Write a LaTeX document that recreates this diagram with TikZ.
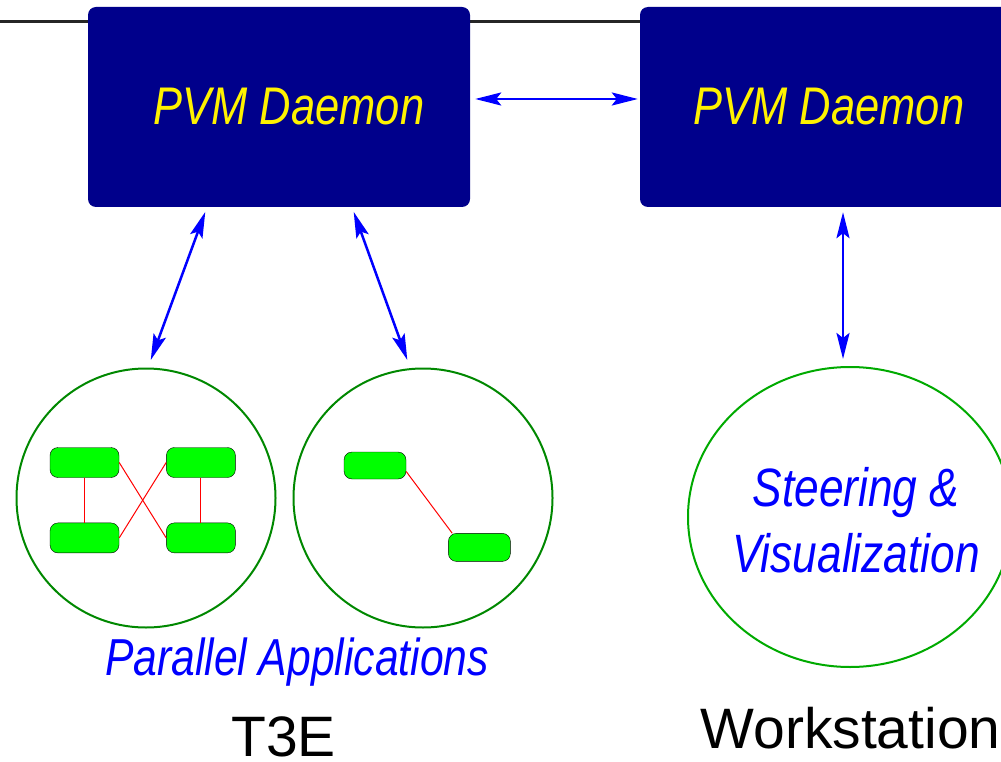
\documentclass[tikz,border=0pt]{standalone}
\usepackage{fontspec}
\setmainfont{Liberation Sans}
\newfontfamily\narrowsf[FakeStretch=0.82]{Liberation Sans}
\usetikzlibrary{positioning, shapes.geometric, arrows.meta}
\definecolor{navy}{RGB}{0,0,139}
\definecolor{appgreen}{RGB}{0,255,0}
\definecolor{ringgreen}{RGB}{0,136,0}
\definecolor{wsgreen}{RGB}{0,170,0}

\begin{document}
\begin{tikzpicture}[x=1pt, y=-1pt, >={Stealth[length=26pt, width=13pt, inset=5pt]},
        daemon/.style = {fill=navy, rounded corners=8pt, minimum width=382pt, minimum height=200pt},
        daemontext/.style = {text=yellow, font=\narrowsf\itshape\fontsize{53}{60}\selectfont},
        ring/.style = {draw=ringgreen, line width=2pt, circle, minimum size=259pt},
        task/.style = {draw, fill=appgreen, rounded corners=8pt, minimum width=69pt, minimum height=30pt},
        link/.style = {red, line width=1pt},
        msg/.style = {<->, blue, line width=2.5pt},
        caption/.style = {blue, font=\narrowsf\itshape\fontsize{52}{66}\selectfont}]
        \useasboundingbox (0,0) rectangle (1001,762);
        \clip (0,0) rectangle (1001,762);

        % backbone line
        \draw[line width=3pt, black!85] (0,22) -- (1001,22);

        \node[daemon] (d1) at (279,107) {};
        \node[daemon] (d2) at (831,107) {};
        \node[daemontext] (l1) at ([xshift=10pt]d1.center) {PVM Daemon};
        \node[daemontext] (l2) at ([xshift=-2pt]d2.center) {PVM Daemon};

        \node[ring] (c1) at (146,498) {};
        \node[ring] (c2) at (423,498) {};
        \node[draw=wsgreen, line width=2pt, ellipse, minimum width=324pt, minimum height=300pt] (ws) at (850,517) {};

        % tasks of the first application
        \node[task] (t1) at (84.5,462.5) {};
        \node[task] (t2) [right=47pt of t1] {};
        \node[task] (t3) [below=45pt of t1] {};
        \node[task] (t4) [below=45pt of t2] {};
        \draw[link] (t1) -- (t3);
        \draw[link] (t2) -- (t4);
        \draw[link] (t1.east) -- (t4.west);
        \draw[link] (t3.east) -- (t2.west);

        % tasks of the second application
        \node[task, minimum width=62pt, minimum height=27pt] (t5) at (375,465.5) {};
        \node[task, minimum width=62pt, minimum height=28pt] (t6) [below right=54pt and 42pt of t5] {};
        \draw[link] ([yshift=-6pt]t5.east) -- ([xshift=4pt]t6.north west);

        \draw[msg, shorten <=5pt, shorten >=2pt] ([yshift=8pt]d1.east) -- ([yshift=8pt]d2.west);
        \draw[msg, shorten <=5pt, shorten >=8pt] ([xshift=-72pt]d1.south) -- ([xshift=2pt]c1.north);
        \draw[msg, shorten <=5pt, shorten >=8pt] ([xshift=73pt]d1.south) -- ([xshift=-13pt]c2.north);
        \draw[msg, shorten <=5pt, shorten >=7pt] ([xshift=12pt]d2.south) -- ([xshift=-7pt]ws.north);

        \node[blue, align=center, font=\narrowsf\itshape\fontsize{54}{66}\selectfont] (sv) at ([xshift=6pt, yshift=-3pt]ws.center) {Steering \&\\Visualization};
        \node[caption, anchor=base] (pa) at (297,675) {Parallel Applications};
        \node[font=\fontsize{57}{60}\selectfont, anchor=base, inner sep=0pt] (t3e) at (283.5,756) {T3E};
        \node[font=\fontsize{57}{60}\selectfont, anchor=base, inner sep=0pt] (wk) at (850.5,748) {Workstation};

    \end{tikzpicture}
\end{document}
